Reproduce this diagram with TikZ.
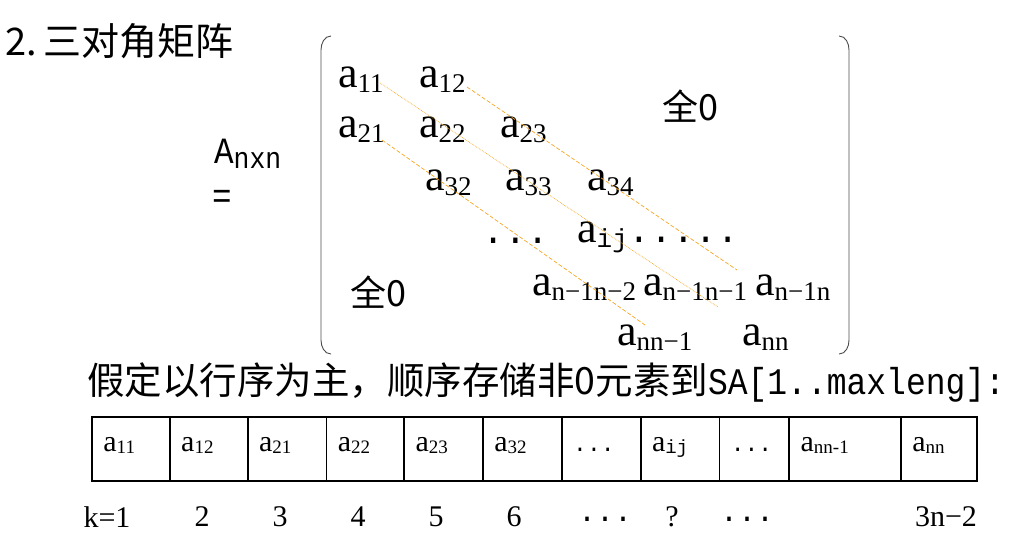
\documentclass[tikz,border=0pt]{standalone}
\usepackage{fontspec}
\setmainfont{Liberation Serif}
\setmonofont{Liberation Mono}
\newfontfamily\cjk{Noto Sans CJK SC}
\newfontfamily\narrowmono[FakeStretch=0.88]{Liberation Mono}
\usepackage{tikz}
\usetikzlibrary{positioning}
\definecolor{diagorange}{RGB}{245,166,35}
\tikzstyle{elem} = [anchor=base west, inner sep=0pt]
\tikzstyle{zero} = [inner sep=0pt, font=\cjk\fontsize{36}{36}\selectfont]
\tikzstyle{cell} = [rectangle, draw=black, line width=0.8pt, minimum height=63pt, inner xsep=11pt, inner ysep=0pt, text height=16pt, text depth=10pt, align=left]
\tikzstyle{klabel} = [inner sep=0pt, font=\fontsize{30}{30}\selectfont]
\tikzstyle{diag} = [diagorange, line width=0.7pt, dash pattern=on 4pt off 2pt]
\tikzstyle{paren} = [black!70, line width=0.9pt]
\newcommand{\mel}[1]{{\fontsize{44}{44}\selectfont a}{\fontsize{27}{27}\selectfont\raisebox{-5pt}{#1}}}
\newcommand{\cel}[1]{{\fontsize{30}{30}\selectfont a}{\fontsize{19}{19}\selectfont\raisebox{-1.5pt}{#1}}}
\begin{document}
\begin{tikzpicture}[x=1pt, y=-1pt, node distance=0pt]
	\useasboundingbox (0,0) rectangle (1022,536);
	% title and left side
	\node[anchor=west, inner sep=0pt, font=\cjk\fontsize{38}{38}\selectfont] (title) at (5,41) {2.\hspace{7pt}三对角矩阵};
	\node[elem, font=\narrowmono\fontsize{37}{37}\selectfont] (A) at (214,163) {A{\fontsize{30}{30}\selectfont\raisebox{-5pt}{nxn}}};
	\node[elem, font=\narrowmono\fontsize{37}{37}\selectfont] (eq) at (212,208) {=};
	
	% matrix brackets
	\draw[paren] (331,36) to[out=180, in=90] (321,50) -- (321,340) to[out=-90, in=180] (331,354);
	\draw[paren] (839,36) to[out=0, in=90] (849,50) -- (849,340) to[out=-90, in=0] (839,354);
	
	% matrix entries
	\node[elem] (a11) at (338,87) {\mel{11}};
	\node[elem] (a12) at (419,87) {\mel{12}};
	\node[elem] (a21) at (338,137) {\mel{21}};
	\node[elem] (a22) at (419,137) {\mel{22}};
	\node[elem] (a23) at (500,137) {\mel{23}};
	\node[elem] (a32) at (425,190) {\mel{32}};
	\node[elem] (a33) at (505,190) {\mel{33}};
	\node[elem] (a34) at (587,190) {\mel{34}};
	\node[elem, font=\ttfamily\fontsize{37}{37}\selectfont] (ldots) at (482,243) {...};
	\node[elem] (aij) at (577,242) {{\fontsize{44}{44}\selectfont a}{\ttfamily\fontsize{26}{26}\selectfont\raisebox{-5pt}{ij}}{\ttfamily\fontsize{37}{37}\selectfont.....}};
	\node[elem] (an1n2) at (532,295) {\mel{n−1n−2}};
	\node[elem] (an1n1) at (643,295) {\mel{n−1n−1}};
	\node[elem] (an1n) at (755,295) {\mel{n−1n}};
	\node[elem] (annm) at (617,345) {\mel{nn−1}};
	\node[elem] (ann) at (742,345) {\mel{nn}};
	\node[zero] (zeroup) at (690,106) {全0};
	\node[zero] (zerolow) at (378,292) {全0};
	
	% band lines
	\coordinate (d1s) at (380,83);
	\coordinate (d1e) at (718,307);
	\coordinate (d2s) at (467,87);
	\coordinate (d2e) at (737,270);
	\coordinate (d3s) at (382,140);
	\coordinate (d3e) at (645,325);
	\draw[diagorange, line width=0.7pt, densely dotted] (d1s) -- (d1e);
	\draw[diag] (d2s) -- (d2e);
	\draw[diag] (d3s) -- (d3e);
	
	% storage text
	\node[anchor=west, inner sep=0pt, font=\cjk\fontsize{37.5}{37.5}\selectfont] (store) at (87,383) {假定以行序为主，顺序存储非0元素到{\narrowmono SA[1..maxleng]:}};
	
	% storage array
	\node[cell, anchor=north west, text width=55pt] (c1) at (92,417) {\cel{11}};
	\node[cell, right=of c1, text width=55pt] (c2) {\cel{12}};
	\node[cell, right=of c2, text width=56pt] (c3) {\cel{21}};
	\node[cell, right=of c3, text width=55pt] (c4) {\cel{22}};
	\node[cell, right=of c4, text width=56pt] (c5) {\cel{23}};
	\node[cell, right=of c5, text width=56pt] (c6) {\cel{32}};
	\node[cell, right=of c6, text width=56pt] (c7) {{\ttfamily\fontsize{23}{23}\selectfont...}};
	\node[cell, right=of c7, text width=56pt] (c8) {{\fontsize{30}{30}\selectfont a}{\ttfamily\fontsize{19}{19}\selectfont\raisebox{-1.5pt}{ij}}};
	\node[cell, right=of c8, text width=47pt] (c9) {{\ttfamily\fontsize{23}{23}\selectfont...}};
	\node[cell, right=of c9, text width=89pt] (c10) {\cel{nn-1}};
	\node[cell, right=of c10, text width=53pt] (c11) {\cel{nn}};
	\draw[line width=2.5pt] (c1.north west) rectangle (c11.south east);
	
	% index labels
	\node[klabel] (k1) at (107,517) {k=1};
	\node[klabel] (k2) at (202,517) {2};
	\node[klabel] (k3) at (280,517) {3};
	\node[klabel] (k4) at (358,517) {4};
	\node[klabel] (k5) at (436,517) {5};
	\node[klabel] (k6) at (514,517) {6};
	\node[klabel, font=\ttfamily\fontsize{30}{30}\selectfont] (k7) at (605,519) {...};
	\node[klabel] (k8) at (672,517) {?};
	\node[klabel, font=\ttfamily\fontsize{30}{30}\selectfont] (k9) at (747,519) {...};
	\node[klabel] (k10) at (946,517) {3n−2};
\end{tikzpicture}
\end{document}
